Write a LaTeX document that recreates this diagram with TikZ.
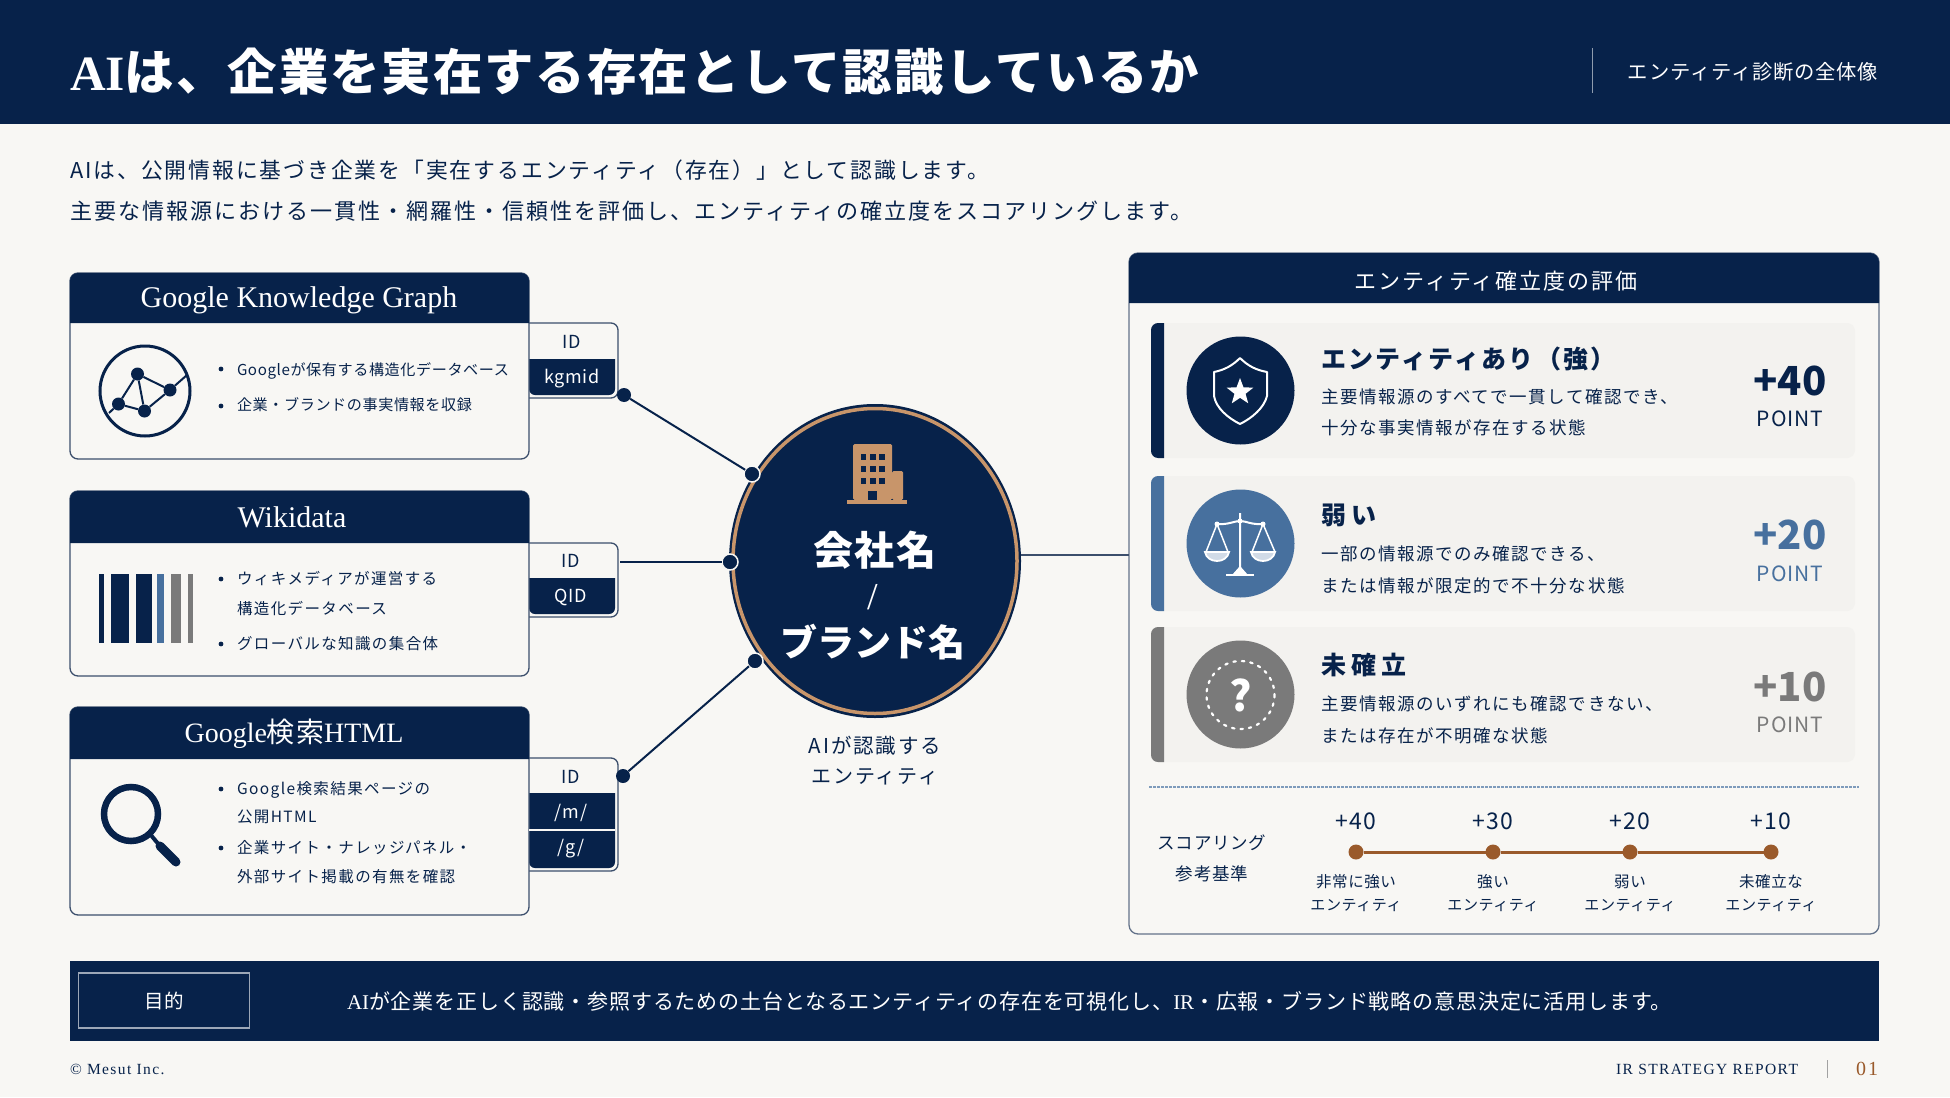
\documentclass[tikz,border=0pt]{standalone}
\usepackage{fontspec}
\usetikzlibrary{shapes.geometric}
\setmainfont{Noto Sans CJK JP}
\newfontfamily\jpfont[LetterSpace=4]{Noto Sans CJK JP}
\newfontfamily\jpwide[LetterSpace=9]{Noto Sans CJK JP}
\newfontfamily\jpwider[LetterSpace=20]{Noto Sans CJK JP}
\newfontfamily\serfont{Liberation Serif}
\newfontfamily\serwide[LetterSpace=9]{Liberation Serif}
\def\fs#1{\fontsize{#1}{#1}\selectfont}
\definecolor{navy}{HTML}{07224A}
\definecolor{paper}{HTML}{F8F7F4}
\definecolor{rowbg}{HTML}{F3F2EF}
\definecolor{gold}{HTML}{C8956A}
\definecolor{brown}{HTML}{9A5A2B}
\definecolor{midblue}{HTML}{47709E}
\definecolor{midgray}{HTML}{7A7A7A}
\definecolor{edge}{HTML}{3C4F6C}
\tikzset{
  txt/.style={inner sep=0pt,outer sep=0pt,text=#1},
  txt/.default=navy,
  item/.style={txt,anchor=west,font=\jpfont\fs{15.1}},
  itemwide/.style={txt,anchor=west,font=\jpwide\fs{15.5}},
  cardtitle/.style={txt=white,font=\serfont\fs{30}},
  idlabel/.style={txt=#1,font=\jpfont\fs{18}},
  joint/.style={circle,fill=navy,draw=paper,line width=1.5pt,minimum size=16pt,inner sep=0pt,outer sep=0pt},
  link/.style={draw=navy,line width=2pt},
  scoredot/.style={circle,fill=brown,minimum size=15pt,inner sep=0pt,outer sep=0pt},
  rowtitle/.style={txt,anchor=west,font=\jpwide\fs{25}\bfseries},
  rowtitlewide/.style={txt,anchor=west,font=\jpwider\fs{25}\bfseries},
  rowtext/.style={txt,anchor=west,font=\jpwide\fs{17.5}},
}
\begin{document}
\begin{tikzpicture}[x=1pt,y=-1pt]
\useasboundingbox (0,0) rectangle (1950,1097);
\fill[paper] (0,0) rectangle (1950,1097);

\def\card#1#2#3{
  \draw[edge,line width=1.3pt,fill=paper,rounded corners=8] (70,#1) rectangle (529,#3);
  \fill[navy] (70,#2) [rounded corners=8] -- (70,#1) -- (529,#1) [sharp corners] -- (529,#2) -- cycle;
}
\def\idtab#1#2#3{
  \draw[edge,line width=1.3pt,fill=paper,rounded corners=7] (529,#1) -- (618,#1) -- (618,#3) -- (529,#3);
  \fill[navy] (529,#2) -- (615,#2) [rounded corners=6] -- (615,#3-3) -- (529,#3-3) [sharp corners] -- cycle;
}
\def\bulletdot#1{\fill[navy] (221,#1) circle (2.4);}

% Header band
\fill[navy] (0,0) rectangle (1950,124);
\node[txt=white,anchor=west,font=\jpfont\fs{49.4}\bfseries] (maintitle) at (70,72) {{\serfont AI}は、企業を実在する存在として認識しているか};
\draw[white!55!navy,line width=1pt] (1592,48) -- (1592,93);
\node[txt=white,anchor=east,font=\jpfont\fs{20.3}] (subtitle) at (1878,72) {エンティティ診断の全体像};

% Intro lines
\node[txt,anchor=west,font=\jpwide\fs{21.8}] (introa) at (70,170) {AIは、公開情報に基づき企業を「実在するエンティティ（存在）」として認識します。};
\node[txt,anchor=west,font=\jpwide\fs{22.05}] (introb) at (70,211) {主要な情報源における一貫性・網羅性・信頼性を評価し、エンティティの確立度をスコアリングします。};

% Source cards
\idtab{323}{359}{398}
\card{273}{323}{459}
\node[cardtitle] (kgtitle) at (299,300) {Google Knowledge Graph};
\bulletdot{369}\bulletdot{406}
\node[item] (kga) at (237,371) {Googleが保有する構造化データベース};
\node[item] (kgb) at (237,405) {企業・ブランドの事実情報を収録};
\node[idlabel] (kgid) at (572,342) {ID};
\node[idlabel=white] (kgval) at (572,378.5) {kgmid};

\idtab{543}{578}{617}
\card{491}{543}{676}
\node[cardtitle] (wdtitle) at (292,517) {Wikidata};
\bulletdot{579}\bulletdot{644}
\node[itemwide] (wda) at (237,579) {ウィキメディアが運営する};
\node[itemwide] (wdb) at (237,609) {構造化データベース};
\node[itemwide] (wdc) at (237,644) {グローバルな知識の集合体};
\node[idlabel] (wdid) at (571,561) {ID};
\node[idlabel=white] (wdval) at (571,597) {QID};

\idtab{758}{793}{871}
\card{707}{759}{915}
\draw[paper,line width=1.5pt] (529,830) -- (615,830);
\node[cardtitle,font=\serfont\fs{28}] (gstitle) at (294,734) {Google{\jpfont 検索}HTML};
\bulletdot{789}\bulletdot{848}
\node[itemwide] (gsa) at (237,790) {Google検索結果ページの};
\node[itemwide] (gsb) at (237,817) {公開HTML};
\node[itemwide] (gsc) at (237,848) {企業サイト・ナレッジパネル・};
\node[itemwide] (gsd) at (237,877) {外部サイト掲載の有無を確認};
\node[idlabel] (gsid) at (571,777) {ID};
\node[idlabel=white] (gsm) at (571,813) {/m/};
\node[idlabel=white] (gsg) at (571,849) {/g/};

% Network icon
\draw[navy,line width=3pt] (145,391) circle (45);
\foreach \n/\x/\y in {na/137.5/374,nb/170/390,nc/118.5/404,nd/144.5/411}
  \node[circle,fill=navy,minimum size=13pt,inner sep=0pt] (\n) at (\x,\y) {};
\draw[navy,line width=2pt] (na) -- (nb) (na) -- (nc) (na) -- (nd) (nb) -- (nd) (nc) -- (nd) (nb) -- (187,375) (nc) -- (109,413);

% Bars icon
\foreach \a/\b/\c in {98.5/104/navy,111/129/navy,135.7/151.7/navy,157/164.4/midblue,171/181/midgray,187.7/193/midgray}
  \fill[\c] (\a,574) rectangle (\b,643);

% Magnifier icon
\draw[navy,line width=6.5pt] (131,814) circle (27);
\draw[navy,line width=4pt] (150,834) -- (160,846);
\draw[navy,line width=9pt,line cap=round] (160,846) -- (176,862);

% Central entity
\node[ellipse,fill=navy,minimum width=292pt,minimum height=314pt,inner sep=0pt,outer sep=0pt] (entity) at (875,561) {};
\node[ellipse,draw=gold,line width=3.5pt,minimum width=284pt,minimum height=305pt,inner sep=0pt] (entityring) at (875,561) {};
\fill[gold,rounded corners=1.5] (853,500) rectangle (892,444);
\fill[gold,rounded corners=1.5] (892,500) rectangle (903,471);
\fill[gold] (847,500) rectangle (907,504);
\foreach \x in {860.5,870,879} \foreach \y in {454,466,478}
  \fill[navy] (\x,\y) rectangle +(5.5,6);
\fill[navy] (868,491) rectangle (877,500);
\node[txt=white,font=\jpfont\fs{40}\bfseries] (entitya) at (875,550) {会社名};
\node[txt=white,font=\serfont\fs{38}] (entityb) at (873,597) {/};
\node[txt=white,font=\fs{37}\bfseries] (entityc) at (873,642) {ブランド名};
\node[txt,font=\jpwide\fs{20.5}] (entityd) at (875,746) {AIが認識する};
\node[txt,font=\jpwide\fs{20}] (entitye) at (875,777) {エンティティ};

% Joints and connectors
\node[joint] (ja) at (752,474) {};
\node[joint] (jb) at (730,562) {};
\node[joint] (jc) at (755,661) {};
\node[circle,fill=navy,minimum size=14pt,inner sep=0pt] (ka) at (624,395) {};
\node[circle,fill=navy,minimum size=14pt,inner sep=0pt] (kc) at (623,776) {};
\coordinate (kb) at (620,562);
\draw[link] (ka) -- (ja);
\draw[link] (kb) -- (jb);
\draw[link] (kc) -- (jc);

% Evaluation panel
\def\evalrow#1#2#3#4{
  \fill[rowbg,rounded corners=8] (1151,#1) rectangle (1855,#2);
  \fill[#3] (1164,#1) [rounded corners=7] -- (1151,#1) -- (1151,#2) [sharp corners] -- (1164,#2) -- cycle;
  \node[circle,fill=#3,minimum size=108pt,inner sep=0pt] (#4) at (1240.5,#1/2+#2/2) {};
}
\draw[edge!80,line width=1.3pt,fill=paper,rounded corners=9] (1129,253) rectangle (1879,934);
\fill[navy] (1129,303) [rounded corners=9] -- (1129,253) -- (1879,253) [sharp corners] -- (1879,303) -- cycle;
\node[txt=white,font=\jpwide\fs{22}] (evaltitle) at (1496,281) {エンティティ確立度の評価};
\coordinate (paneljoin) at (1129,555);
\draw[edge,line width=1.3pt] (entity.east |- paneljoin) -- (paneljoin);

\evalrow{323}{458}{navy}{iconstrong}
\evalrow{476}{611}{midblue}{iconweak}
\evalrow{627}{762}{midgray}{iconnone}

\node[rowtitle] (stronga) at (1321,359) {エンティティあり（強）};
\node[rowtext] (strongb) at (1321,397) {主要情報源のすべてで一貫して確認でき、};
\node[rowtext] (strongc) at (1321,428) {十分な事実情報が存在する状態};
\node[txt,font=\fs{40}\bfseries] (strongd) at (1790,381) {+40};
\node[txt,font=\jpfont\fs{21}] (stronge) at (1790,419) {POINT};

\node[rowtitlewide] (weaka) at (1321,515) {弱い};
\node[rowtext] (weakb) at (1321,554) {一部の情報源でのみ確認できる、};
\node[rowtext] (weakc) at (1321,586) {または情報が限定的で不十分な状態};
\node[txt=midblue,font=\fs{40}\bfseries] (weakd) at (1790,535) {+20};
\node[txt=midblue,font=\jpfont\fs{21}] (weake) at (1790,574) {POINT};

\node[rowtitlewide] (nonea) at (1321,665) {未確立};
\node[rowtext] (noneb) at (1321,704) {主要情報源のいずれにも確認できない、};
\node[rowtext] (nonec) at (1321,736) {または存在が不明確な状態};
\node[txt=midgray,font=\fs{40}\bfseries] (noned) at (1790,687) {+10};
\node[txt=midgray,font=\jpfont\fs{21}] (nonee) at (1790,725) {POINT};

% Shield
\draw[white,line width=2pt,line join=round] (1240,358) .. controls (1232,366) and (1224,370) .. (1214,372) -- (1214,396) .. controls (1216,408) and (1228,418) .. (1240,424) .. controls (1252,418) and (1264,408) .. (1267,396) -- (1267,372) .. controls (1256,370) and (1248,366) .. (1240,358) -- cycle;
\node[star,star points=5,star point ratio=2.4,fill=white,minimum size=28pt,inner sep=0pt] (shieldstar) at (1240,392) {};

% Balance
\draw[white,line width=2pt] (1240,513) -- (1240,572) (1217,524) .. controls (1228,525) and (1234,521) .. (1240,521) .. controls (1246,521) and (1252,525) .. (1263,524);
\draw[white,line width=1.5pt] (1217,524) -- (1206,552) (1217,524) -- (1228,552) (1263,524) -- (1252,552) (1263,524) -- (1275,552);
\foreach \x in {1217,1263}
  \draw[white,line width=1.8pt,fill=white!75!midblue] (\x-12,552) -- (\x+12,552) .. controls (\x+10,564) and (\x-10,564) .. (\x-12,552) -- cycle;
\draw[white,line width=2.5pt] (1226,575) -- (1254,575);
\fill[white] (1240,566) -- (1248,575) -- (1232,575) -- cycle;
\foreach \x/\y in {1217/524,1240/521,1263/524}
  \fill[white] (\x,\y) circle (2.5);

% Question mark
\draw[white,line width=2.2pt,dash pattern=on 2.5pt off 6pt,line cap=round] (1240.5,695) circle (34);
\node[txt=white,font=\fs{42}\bfseries] (questionmark) at (1240.5,695) {?};

% Score scale
\draw[midblue!70,line width=1.2pt,dash pattern=on 2.5pt off 1.5pt] (1149,787) -- (1859,787);
\node[txt,font=\jpfont\fs{17.5}] (scalea) at (1212,843) {スコアリング};
\node[txt,font=\jpfont\fs{17.5}] (scaleb) at (1212,874) {参考基準};
\node[scoredot] (sa) at (1356,852) {};
\node[scoredot] (sb) at (1493,852) {};
\node[scoredot] (sc) at (1630,852) {};
\node[scoredot] (sd) at (1771,852) {};
\draw[brown,line width=3pt] (sa) -- (sb) -- (sc) -- (sd);
\foreach \p/\n/\v/\t in {sa/a/+40/非常に強い,sb/b/+30/強い,sc/c/+20/弱い,sd/d/+10/未確立な}{
  \node[txt,font=\jpfont\fs{23}] (val\n) at (\p|-0,821) {\v};
  \node[txt,font=\jpfont\fs{15.5}] (nam\n) at (\p|-0,882) {\t};
  \node[txt,font=\jpfont\fs{15}] (ent\n) at (\p|-0,906) {エンティティ};
}

% Purpose bar
\fill[navy] (70,961) rectangle (1879,1041);
\node[draw=white!60!navy,line width=1.2pt,minimum width=171pt,minimum height=55pt,inner sep=0pt,txt=white,font=\fs{19.5}] (purposebox) at (164,1000.5) {目的};
\node[txt=white,anchor=west,font=\jpfont\fs{21}] (purposetext) at (347,1001) {{\serfont AI}が企業を正しく認識・参照するための土台となるエンティティの存在を可視化し、{\serfont IR}・広報・ブランド戦略の意思決定に活用します。};

% Footer
\node[txt,anchor=west,font=\serwide\fs{15.5}] (copyright) at (70,1069) {© Mesut Inc.};
\node[txt,anchor=east,font=\serwide\fs{15.5}] (reportname) at (1798,1069) {IR STRATEGY REPORT};
\draw[midgray!70,line width=1pt] (1827,1060) -- (1827,1078);
\node[txt=brown,anchor=east,font=\serwide\fs{20}] (pagenum) at (1878,1069) {01};
\end{tikzpicture}
\end{document}
